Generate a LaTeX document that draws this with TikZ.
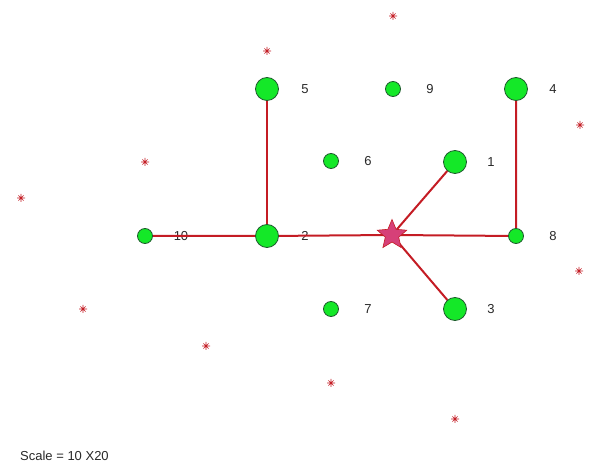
\documentclass[tikz,border=0pt]{standalone}
\usepackage{fontspec}
\setmainfont{Liberation Sans}
\usetikzlibrary{shapes.geometric,backgrounds}
\definecolor{rojo}{RGB}{196,28,36}
\definecolor{rosa}{RGB}{214,64,120}
\definecolor{verdec}{RGB}{20,232,40}
\definecolor{verdeo}{RGB}{30,90,45}
\definecolor{grist}{RGB}{40,40,40}
\tikzset{
  grande/.style={circle, draw=verdeo, fill=verdec, line width=0.8pt, minimum size=23pt, inner sep=0pt},
  chico/.style={circle, draw=verdeo, fill=verdec, line width=0.8pt, minimum size=15pt, inner sep=0pt},
  centro/.style={star, star points=5, star point ratio=2.2, draw=rojo, fill=rosa, line width=0.6pt, minimum size=31pt, inner sep=0pt},
  rama/.style={rojo, line width=2pt},
  et/.style={font=\fontsize{13}{15}\selectfont, text=grist, inner sep=0pt},
  ast/.pic={\draw[rojo, line width=0.6pt] (-4,0)--(4,0) (0,-4)--(0,4) (-2.6,-2.6)--(2.6,2.6) (-2.6,2.6)--(2.6,-2.6);},
}
\begin{document}
\begin{tikzpicture}[x=1pt, y=-1pt]
  \useasboundingbox (0,0) rectangle (590,465);
  % puntos de demanda
  \node[grande] (n5) at (267,89) {};
  \node[chico]  (n9) at (393,89) {};
  \node[grande] (n4) at (516,89) {};
  \node[chico]  (n6) at (331,161) {};
  \node[grande] (n1) at (455,162) {};
  \node[chico]  (n10) at (145,236) {};
  \node[grande] (n2) at (267,236) {};
  \node[chico]  (n8) at (516,236) {};
  \node[chico]  (n7) at (331,309) {};
  \node[grande] (n3) at (455,309) {};
  \begin{scope}[on background layer]
    \node[et] (e5) at (305,89) {5};   \node[et] (e9) at (430,89) {9};   \node[et] (e4) at (553,89) {4};
    \node[et] (e6) at (368,161) {6};  \node[et] (e1) at (491,162) {1};
    \node[et] (e10) at (181,236) {10}; \node[et] (e2) at (305,236) {2}; \node[et] (e8) at (553,236) {8};
    \node[et] (e7) at (368,309) {7};  \node[et] (e3) at (491,309) {3};
    \coordinate (c0) at (392,235);
    \draw[rama] (n10)--(n2)--(c0)--(n8)--(n4);
    \draw[rama] (n5)--(n2);
    \draw[rama] (c0)--(n1); \draw[rama] (c0)--(n3);
  \end{scope}
  \node[centro] (st) at (c0) {};
  % puntos candidatos
  \foreach \px/\py in {393/16, 267/51, 580/125, 145/162, 21/198, 579/271, 83/309, 206/346, 331/383, 455/419}
    \pic at (\px,\py) {ast};
  \node[et, anchor=west] (esc) at (20,456) {Scale = 10 X20};
\end{tikzpicture}
\end{document}
